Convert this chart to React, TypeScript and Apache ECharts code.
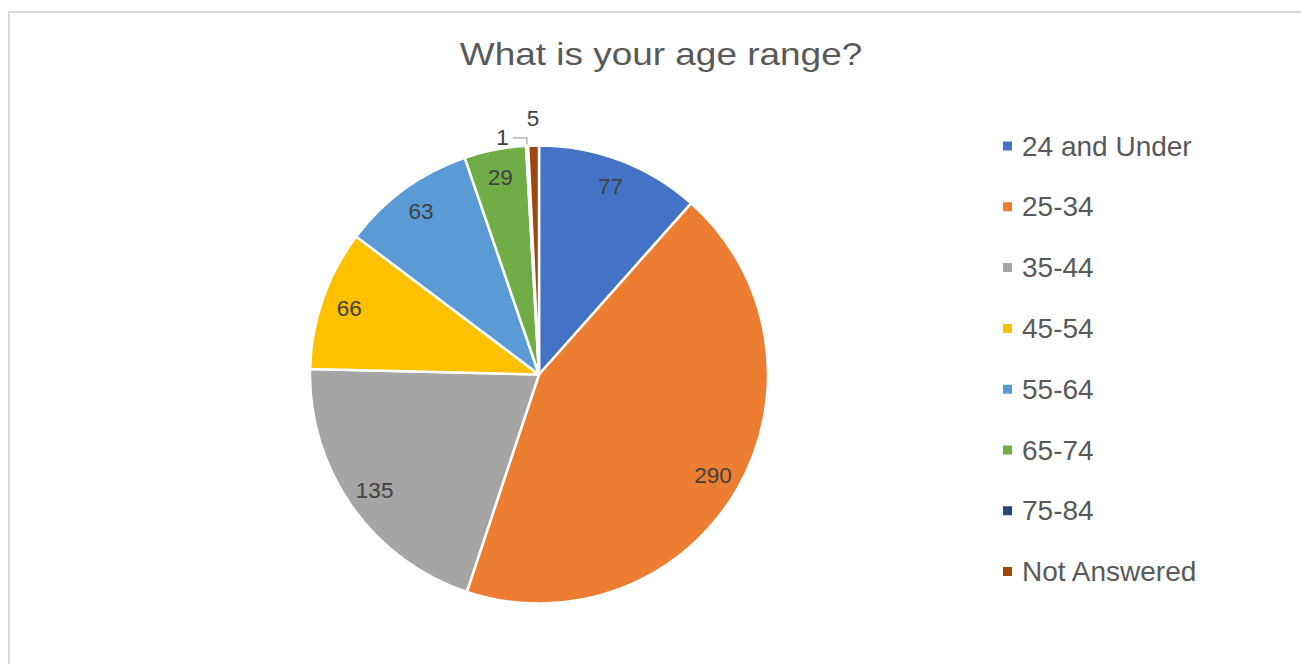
import React, { useEffect, useRef } from "react";
import * as echarts from "echarts";

const categories = [
  "24 and Under",
  "25-34",
  "35-44",
  "45-54",
  "55-64",
  "65-74",
  "75-84",
  "Not Answered",
];
const values = [77, 290, 135, 66, 63, 29, 1, 5];
const colors = [
  "#4472C4",
  "#ED7D31",
  "#A5A5A5",
  "#FFC000",
  "#5B9BD5",
  "#70AD47",
  "#264478",
  "#9E480E",
];
const titleText = "What is your age range?";
const leaderLabelItems = ["75-84"];
const ringLabelItems = ["Not Answered"];

const FONT = "'Liberation Sans', Arial, Helvetica, sans-serif";

export default function App() {
  const ref = useRef<HTMLDivElement>(null);

  useEffect(() => {
    if (!ref.current) return;
    const chart = echarts.init(ref.current, null, { renderer: "svg" });
    const center = [539, 374.5];
    const R = 229;

    const mainData = categories.map((name, i) => ({
      name,
      value: values[i],
      itemStyle: { color: colors[i] },
      label: { show: leaderLabelItems.includes(name) },
      labelLine: { show: leaderLabelItems.includes(name) },
    }));

    const innerLabelData = categories.map((name, i) => ({
      name,
      value: values[i],
      label: {
        show: !leaderLabelItems.includes(name) && !ringLabelItems.includes(name),
      },
    }));

    const ringLabelData = categories.map((name, i) => ({
      name,
      value: values[i],
      label: { show: ringLabelItems.includes(name) },
    }));

    const labelStyle = {
      formatter: "{c}",
      color: "#404040",
      fontSize: 22.5,
      fontFamily: FONT,
    };

    chart.setOption({
      animation: false,
      backgroundColor: "#ffffff",
      graphic: [
        {
          type: "rect",
          silent: true,
          z: -10,
          shape: { x: 9, y: 12, width: 1500, height: 900 },
          style: { fill: "none", stroke: "#d9d9d9", lineWidth: 2 },
        },
        {
          type: "text",
          x: 661,
          y: 54,
          scaleX: 1.155,
          silent: true,
          style: {
            text: titleText,
            fontSize: 32,
            fill: "#595959",
            fontFamily: FONT,
            align: "center",
            verticalAlign: "middle",
          },
        },
      ],
      legend: {
        orient: "vertical",
        left: 996,
        top: 127,
        icon: "rect",
        itemWidth: 11,
        itemHeight: 11,
        itemGap: 32.8,
        data: categories,
        selectedMode: false,
        textStyle: {
          fontSize: 28,
          lineHeight: 28,
          color: "#595959",
          fontFamily: FONT,
          padding: [0, 0, 0, 4],
        },
      },
      series: [
        {
          type: "pie",
          center,
          radius: [0, R],
          startAngle: 90,
          clockwise: true,
          silent: true,
          avoidLabelOverlap: false,
          emphasis: { disabled: true },
          itemStyle: { borderColor: "#ffffff", borderWidth: 2.5 },
          label: { ...labelStyle, position: "outside", distanceToLabelLine: 4 },
          labelLine: {
            length: 8,
            length2: 14,
            lineStyle: { color: "#a6a6a6", width: 1.2 },
          },
          data: mainData,
        },
        {
          type: "pie",
          center,
          radius: [167, R],
          startAngle: 90,
          clockwise: true,
          silent: true,
          avoidLabelOverlap: false,
          emphasis: { disabled: true },
          itemStyle: { color: "rgba(0,0,0,0)", borderWidth: 0 },
          label: { ...labelStyle, position: "inside" },
          labelLine: { show: false },
          data: innerLabelData,
        },
        {
          type: "pie",
          center,
          radius: [R, 278],
          startAngle: 90,
          clockwise: true,
          silent: true,
          avoidLabelOverlap: false,
          emphasis: { disabled: true },
          itemStyle: { color: "rgba(0,0,0,0)", borderWidth: 0 },
          label: { ...labelStyle, position: "inside" },
          labelLine: { show: false },
          data: ringLabelData,
        },
      ],
    });

    return () => {
      chart.dispose();
    };
  }, []);

  return (
    <div
      ref={ref}
      style={{
        position: "fixed",
        left: 0,
        top: 0,
        width: 1301,
        height: 664,
        background: "#ffffff",
      }}
    />
  );
}
